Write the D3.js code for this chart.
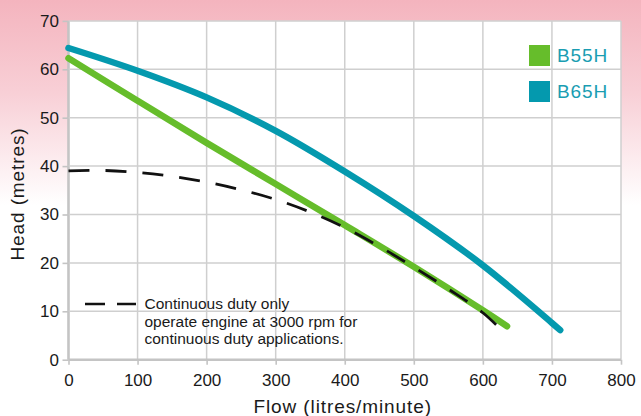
<!DOCTYPE html>
<html>
<head>
<meta charset="utf-8">
<script src="https://cdn.jsdelivr.net/npm/d3@7"></script>
<style>
  html, body { margin: 0; padding: 0; background: #fff; }
  svg { display: block; font-family: "Liberation Sans", Arial, Helvetica, sans-serif; }
</style>
</head>
<body>
<svg id="chart" width="641" height="416"></svg>
<script>
// ---- data ----
const xTicks = [0, 100, 200, 300, 400, 500, 600, 700, 800];
const yTicks = [0, 10, 20, 30, 40, 50, 60, 70];
const seriesNames = ["B55H", "B65H"];
const b55hFlow = [0, 100, 200, 300, 400, 500, 600, 635];
const b55hHead = [62.3, 53.5, 44.8, 36.3, 27.8, 19.2, 10.2, 6.9];
const b65hFlow = [0, 100, 200, 300, 400, 500, 600, 700, 712];
const b65hHead = [64.4, 59.7, 54.2, 47.3, 38.9, 29.7, 19.5, 7.6, 6.1];
const contFlow = [0, 50, 100, 150, 200, 250, 300, 350, 400, 450, 500, 550, 600, 632];
const contHead = [39.0, 39.1, 38.7, 37.9, 36.7, 35.1, 33.1, 30.5, 27.3, 23.4, 19.1, 14.6, 9.7, 5.4];
const noteLines = ["Continuous duty only", "operate engine at 3000 rpm for", "continuous duty applications."];
const xTitle = "Flow (litres/minute)";
const yTitle = "Head (metres)";

// ---- layout ----
const W = 641, H = 416;
const L = 68.5, R = 621, T = 20.9, B = 359.7;
const green = "#66bd2b", blue = "#0499ae", legendText = "#1a9db2";

const svg = d3.select("#chart");
const defs = svg.append("defs");
const grad = defs.append("linearGradient").attr("id", "bg")
  .attr("gradientUnits", "userSpaceOnUse").attr("x1", 0).attr("y1", 0).attr("x2", 0).attr("y2", 205);
grad.append("stop").attr("offset", 0).attr("stop-color", "#f4b4be");
grad.append("stop").attr("offset", 0.45).attr("stop-color", "#f8cfd6");
grad.append("stop").attr("offset", 1).attr("stop-color", "#ffffff");
svg.append("rect").attr("width", W).attr("height", H).attr("fill", "url(#bg)");

const x = d3.scaleLinear().domain([0, 800]).range([L, R]);
const y = d3.scaleLinear().domain([0, 70]).range([B, T]);

// plot background
svg.append("rect").attr("x", L).attr("y", T).attr("width", R - L).attr("height", B - T).attr("fill", "#fff");

// grid
const grid = svg.append("g");
grid.selectAll("line.v").data(xTicks).join("line")
  .attr("x1", d => x(d)).attr("x2", d => x(d)).attr("y1", T).attr("y2", B)
  .attr("stroke", d => d === 0 ? "#c4c4c4" : "#cfcfcf").attr("stroke-width", d => d === 0 ? 2.6 : 1.5);
grid.selectAll("line.h").data(yTicks).join("line")
  .attr("y1", d => y(d)).attr("y2", d => y(d)).attr("x1", L).attr("x2", R)
  .attr("stroke", d => d === 0 ? "#c4c4c4" : "#cfcfcf").attr("stroke-width", d => d === 0 ? 2.6 : 1.5);

// axes
const xAxis = svg.append("g").attr("transform", `translate(0,${B})`)
  .call(d3.axisBottom(x).tickValues(xTicks).tickSize(5).tickPadding(6).tickFormat(d3.format("d")));
const yAxis = svg.append("g").attr("transform", `translate(${L},0)`)
  .call(d3.axisLeft(y).tickValues(yTicks).tickSize(6).tickPadding(3.5).tickFormat(d3.format("d")));
[xAxis, yAxis].forEach(a => {
  a.select(".domain").remove();
  a.selectAll(".tick line").attr("stroke", "#c4c4c4").attr("stroke-width", 1.6);
  a.selectAll(".tick text").attr("fill", "#1a1a1a").style("font-size", "17px")
    .style("font-family", "'Liberation Sans', Arial, sans-serif");
});
xAxis.selectAll(".tick text").attr("dy", "0.71em").attr("y", 14);

// axis titles
svg.append("text").attr("x", (252.7 + 432.7) / 2).attr("y", 413).attr("text-anchor", "middle")
  .style("font-size", "19px").style("letter-spacing", "0.9px").attr("fill", "#1a1a1a").text(xTitle);
svg.append("text").attr("transform", "translate(24,194) rotate(-90)").attr("text-anchor", "middle")
  .style("font-size", "19px").style("letter-spacing", "0.9px").attr("fill", "#1a1a1a").text(yTitle);

// curves
const line = d3.line().x(d => x(d[0])).y(d => y(d[1])).curve(d3.curveCatmullRom.alpha(0.5));
const zip = (a, b) => a.map((v, i) => [v, b[i]]);
svg.append("path").datum(zip(b65hFlow, b65hHead)).attr("d", line)
  .attr("fill", "none").attr("stroke", blue).attr("stroke-width", 6.5).attr("stroke-linecap", "round");
svg.append("path").datum(zip(b55hFlow, b55hHead)).attr("d", line)
  .attr("fill", "none").attr("stroke", green).attr("stroke-width", 6.5).attr("stroke-linecap", "round");
svg.append("path").datum(zip(contFlow, contHead)).attr("d", line)
  .attr("fill", "none").attr("stroke", "#111").attr("stroke-width", 2.8).attr("stroke-dasharray", "21,16");

// legend
const leg = svg.append("g");
seriesNames.forEach((name, i) => {
  const yy = 45 + i * 36;
  leg.append("rect").attr("x", 529).attr("y", yy).attr("width", 21).attr("height", 21)
    .attr("fill", i === 0 ? green : blue);
  leg.append("text").attr("x", 557).attr("y", yy + 17).style("font-size", "19px").style("letter-spacing", "0.9px")
    .attr("fill", legendText).text(name);
});

// annotation
svg.append("line").attr("x1", 85).attr("x2", 136).attr("y1", 304).attr("y2", 304)
  .attr("stroke", "#111").attr("stroke-width", 2.6).attr("stroke-dasharray", "20,12");
svg.append("g").selectAll("text").data(noteLines).join("text")
  .attr("x", 144.5).attr("y", (d, i) => 309 + i * 17.6)
  .style("font-size", "15.5px").attr("fill", "#1a1a1a").text(d => d);
</script>
</body>
</html>
